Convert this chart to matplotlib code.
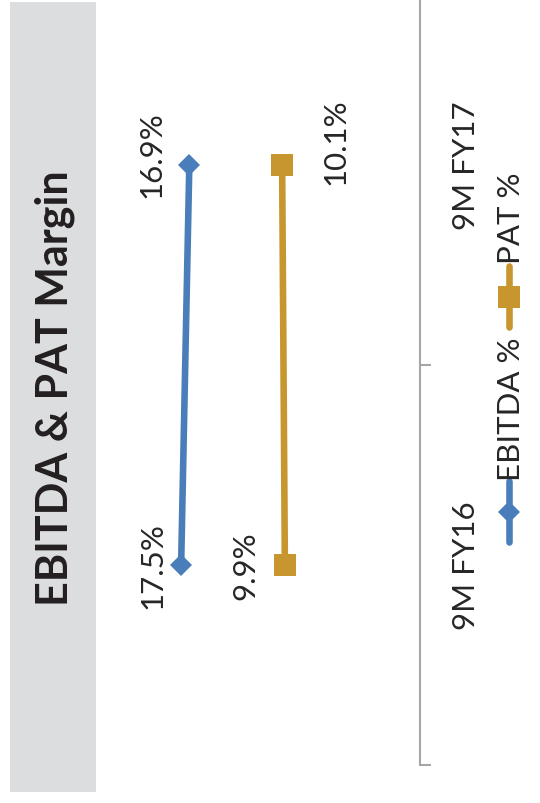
import matplotlib
matplotlib.use("Agg")
import matplotlib.pyplot as plt
from matplotlib.patches import Rectangle
from matplotlib.lines import Line2D

# ---- data ----
categories = ["9M FY16", "9M FY17"]
ebitda = [17.5, 16.9]
pat = [9.9, 10.1]
series_names = ["EBITDA %", "PAT %"]
title = "EBITDA & PAT Margin"

# ---- style ----
W, H = 540, 804
BLUE = "#4A7EBB"
GOLD = "#C8962F"
GRAY_AX = "#A6A6A6"
PANEL = "#DCDDDF"
TXT = "#262626"
FONT = ["Lato", "DejaVu Sans"]

plt.rcParams["font.family"] = FONT

fig = plt.figure(figsize=(W / 100, H / 100), dpi=100)


def fx(x):
    return x / W


def fy(y):
    return 1 - y / H


# grey title panel
fig.patches.append(Rectangle((fx(10), fy(793)), 86 / W, 790 / H,
                             transform=fig.transFigure, facecolor=PANEL,
                             edgecolor="none", zorder=0))
fig.text(fx(68), fy(388), title, rotation=90, rotation_mode="anchor",
         ha="center", va="baseline", fontsize=31, fontweight="bold",
         color="#231F20")

# main axes (rotated layout: value axis horizontal, inverted)
ax_left, ax_right = 100, 420
ax_bottom = 766
ax = fig.add_axes([fx(ax_left), fy(ax_bottom), (ax_right - ax_left) / W, ax_bottom / H])
px_per_unit = 13.65
ax.patch.set_alpha(0)

pos = list(range(len(categories)))
ax.plot(ebitda, pos, color=BLUE, lw=4.75, marker="D", markersize=11.2,
        markeredgewidth=0, zorder=3)
ax.plot(pat, pos, color=GOLD, lw=4.75, marker="s", markersize=15.8,
        markeredgewidth=0, zorder=3)

# spines / ticks
for s in ("left", "top", "bottom"):
    ax.spines[s].set_visible(False)
ax.spines["right"].set_color(GRAY_AX)
ax.spines["right"].set_linewidth(1.5)
ax.xaxis.set_visible(False)
ax.yaxis.set_ticks_position("right")
ax.set_yticks(pos, labels=categories)
ax.set_yticks([p - 0.5 for p in pos] + [pos[-1] + 0.5], minor=True)
ax.tick_params(axis="y", which="major", length=0, pad=39.6, labelsize=22.5,
               labelcolor=TXT)
ax.tick_params(axis="y", which="minor", length=8, width=1.5, color=GRAY_AX,
               direction="out")
for lbl in ax.get_yticklabels():
    lbl.set_rotation(90)
    lbl.set_rotation_mode("anchor")
    lbl.set_ha("center")
    lbl.set_va("baseline")

# limits set after ticks (set_yticks would expand them)
ax.set_xlim((ax_right - ax_left) / px_per_unit, 0)
ax.set_ylim(-0.5, -0.5 + ax_bottom / 400)

# data labels
ebitda_off = [(-14.4, 0), (-20.9, 7.9)]
pat_off = [(-22.3, 0), (44.6, 17.6)]
for vals, offs in ((ebitda, ebitda_off), (pat, pat_off)):
    for v, p, o in zip(vals, pos, offs):
        ax.annotate(f"{v:.1f}%", (v, p), xytext=o, textcoords="offset points",
                    rotation=90, rotation_mode="anchor", ha="center",
                    va="baseline", fontsize=22.5, color=TXT)

# legend (rotated, drawn manually)
leg = [
    (BLUE, "D", 11.2, 482, 543, 513, series_names[0], 409.5),
    (GOLD, "s", 15.8, 267, 328, 298, series_names[1], 218.5),
]
for col, mk, ms, y0, y1, ym, name, ty in leg:
    fig.add_artist(Line2D([fx(509), fx(509)], [fy(y0), fy(y1)],
                          transform=fig.transFigure, color=col, lw=4.75,
                          solid_capstyle="round"))
    fig.add_artist(Line2D([fx(509)], [fy(ym)], transform=fig.transFigure,
                          color=col, marker=mk, markersize=ms,
                          markeredgewidth=0, linestyle="none"))
    fig.text(fx(520), fy(ty), name, rotation=90, rotation_mode="anchor",
             ha="center", va="baseline", fontsize=22.5, color=TXT)

fig.savefig("out.png", dpi=100)
